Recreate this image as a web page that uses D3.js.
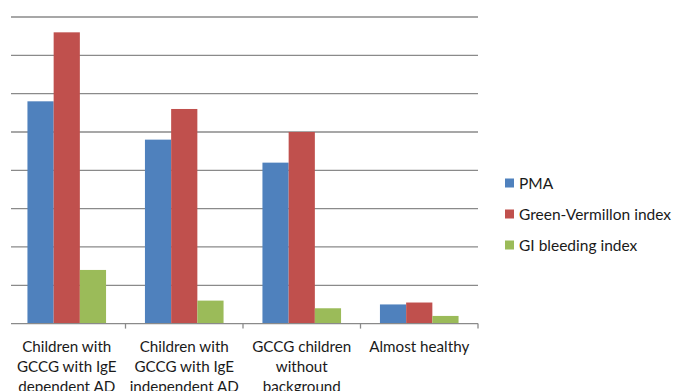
<!DOCTYPE html>
<html>
<head>
<meta charset="utf-8">
<script src="https://cdn.jsdelivr.net/npm/d3@7"></script>
<style>
  html, body { margin: 0; padding: 0; background: #fff; }
  svg { display: block; }
  text { font-family: Lato, "Open Sans", sans-serif; fill: #1a1a1a; }
</style>
</head>
<body>
<svg id="chart" width="673" height="391"></svg>
<script>
// Category labels (each entry is a list of lines)
const categories = [
  ["Children with", "GCCG with IgE", "dependent AD"],
  ["Children with", "GCCG with IgE", "independent AD"],
  ["GCCG children", "without", "background"],
  ["Almost healthy"]
];
const seriesNames = ["PMA", "Green-Vermillon index", "GI bleeding index"];
const pma = [58, 48, 42, 5];
const greenVermillon = [76, 56, 50, 5.5];
const giBleeding = [14, 6, 4, 2];
const yTicks = [0, 10, 20, 30, 40, 50, 60, 70, 80];
const colors = ["#4F81BD", "#C0504D", "#9BBB59"];

const series = [pma, greenVermillon, giBleeding];

const svg = d3.select("#chart");
const plotLeft = 8, plotRight = 478, plotTop = 17, plotBottom = 323.6;

const x = d3.scaleBand()
  .domain(d3.range(categories.length))
  .range([plotLeft, plotRight])
  .paddingInner(0).paddingOuter(0);

const inner = d3.scaleBand()
  .domain(d3.range(series.length))
  .range([0, x.bandwidth()])
  .paddingOuter(0.742).paddingInner(0);

const y = d3.scaleLinear().domain([0, 80]).range([plotBottom, plotTop]);

// Horizontal gridlines
svg.append("g")
  .selectAll("line")
  .data(yTicks.filter(d => d > 0))
  .join("line")
  .attr("x1", 11).attr("x2", plotRight)
  .attr("y1", d => y(d)).attr("y2", d => y(d))
  .attr("stroke", "#8a8a8a").attr("stroke-width", 1.3);

// Bars
const groups = svg.append("g")
  .selectAll("g")
  .data(categories.map((c, i) => i))
  .join("g")
  .attr("transform", i => `translate(${x(i)},0)`);

groups.selectAll("rect")
  .data(i => series.map((s, k) => ({ k, v: s[i] })))
  .join("rect")
  .attr("x", d => inner(d.k))
  .attr("width", inner.bandwidth())
  .attr("y", d => y(d.v))
  .attr("height", d => y(0) - y(d.v))
  .attr("fill", d => colors[d.k]);

// Category axis
const xAxis = svg.append("g")
  .attr("transform", `translate(0,${plotBottom})`);
xAxis.append("line")
  .attr("x1", 11).attr("x2", plotRight)
  .attr("stroke", "#8a8a8a").attr("stroke-width", 1.3);
xAxis.selectAll("line.tick")
  .data(d3.range(1, categories.length + 1))
  .join("line")
  .attr("class", "tick")
  .attr("x1", i => i < categories.length ? x(i) : plotRight)
  .attr("x2", i => i < categories.length ? x(i) : plotRight)
  .attr("y1", 0).attr("y2", 5)
  .attr("stroke", "#8a8a8a").attr("stroke-width", 1.3);

const labels = svg.append("g")
  .selectAll("text")
  .data(categories)
  .join("text")
  .attr("text-anchor", "middle")
  .attr("font-size", 15.2)
  .attr("x", (d, i) => x(i) + x.bandwidth() / 2)
  .attr("y", 352);
labels.selectAll("tspan")
  .data(d => d)
  .join("tspan")
  .attr("x", function () { return this.parentNode.getAttribute("x"); })
  .attr("dy", (d, j) => j === 0 ? 0 : 20)
  .text(d => d);

// Legend
const legend = svg.append("g")
  .selectAll("g")
  .data(seriesNames)
  .join("g")
  .attr("transform", (d, i) => `translate(505,${183 + i * 31})`);
legend.append("rect")
  .attr("x", 0).attr("y", -4.5)
  .attr("width", 9).attr("height", 9)
  .attr("fill", (d, i) => colors[i]);
legend.append("text")
  .attr("x", 14).attr("y", 5.5)
  .attr("font-size", 15.5)
  .text(d => d);
</script>
</body>
</html>
